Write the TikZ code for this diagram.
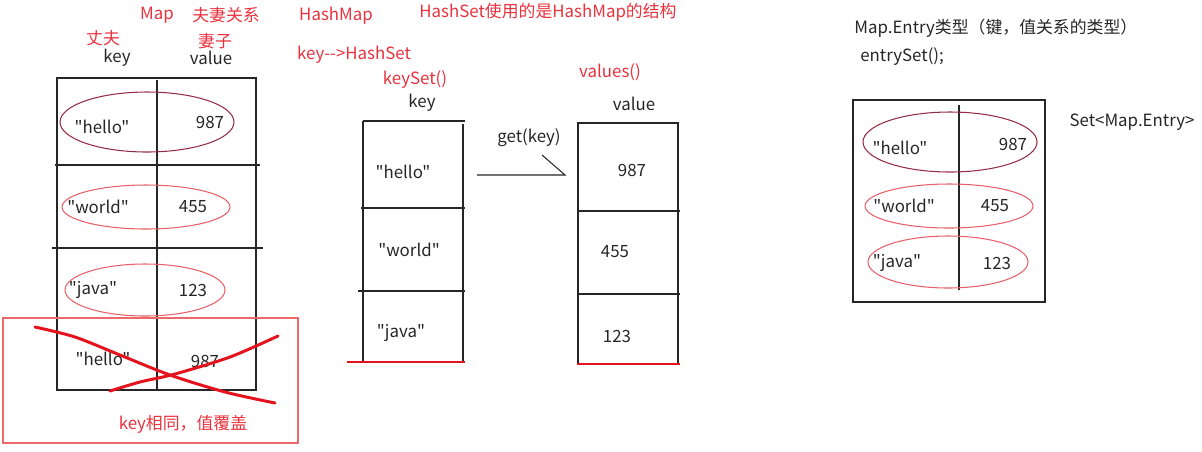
\documentclass[tikz,border=0pt]{standalone}
\usepackage{fontspec}
\newfontfamily\cjkfont{Noto Sans CJK SC}
\definecolor{notered}{RGB}{232,50,62}
\definecolor{ovaldark}{RGB}{150,45,70}
\definecolor{ovallight}{RGB}{232,95,105}
\definecolor{crossred}{RGB}{228,20,30}
\definecolor{boxred}{RGB}{236,105,105}
\usetikzlibrary{positioning,calc}

\tikzset{
  txt/.style={font=\cjkfont\fontsize{9.6}{11}\selectfont,inner sep=0pt,text=black!85},
  note/.style={txt,text=notered},
  grid/.style={draw=black!85,line width=0.7pt},
  darkoval/.style={draw=ovaldark,line width=0.6pt},
  lightoval/.style={draw=ovallight,line width=0.6pt},
}

\begin{document}
\begin{tikzpicture}[x=0.02cm,y=-0.02cm]
    \useasboundingbox (0,0) rectangle (1202,451);

    % titles and notes
    \node[note] (map) at (157,15) {Map};
    \node[note] (couple) at (226,15) {夫妻关系};
    \node[note] (husband) at (103,38) {丈夫};
    \node[note] (wife) at (215,41) {妻子};
    \node[txt] (keyhd) at (117,58) {key};
    \node[txt] (valhd) at (211,58) {value};
    \node[note] (hashmap) at (336,16) {HashMap};
    \node[note] (keyhash) at (354,55) {key-->HashSet};
    \node[note] (hashset) at (548,12) {HashSet使用的是HashMap的结构};
    \node[note] (keyset) at (415,80) {keySet()};
    \node[txt] (keyhd2) at (422,103) {key};
    \node[note] (values) at (610,72) {values()};
    \node[txt] (valhd2) at (634,104) {value};

    % map table
    \draw[grid] (57,78) rectangle (256,390);
    \draw[grid] (157,80) -- (157,390);
    \draw[grid] (55,165) -- (260,165);
    \draw[grid] (52,248) -- (263,248);
    \draw[grid] (57,318) -- (260,318);
    \draw[darkoval] (147,122) ellipse (87 and 30);
    \draw[lightoval] (146,207) ellipse (84 and 22);
    \draw[lightoval] (145,290) ellipse (80 and 26);
    \node[txt] (mk1) at (102,127) {"hello"};
    \node[txt] (mv1) at (210,122) {987};
    \node[txt] (mk2) at (98,207) {"world"};
    \node[txt] (mv2) at (193,207) {455};
    \node[txt] (mk3) at (93,290) {"java"};
    \node[txt] (mv3) at (193,290) {123};
    \node[txt] (mk4) at (103,359) {"hello"};
    \node[txt] (mv4) at (205,361) {987};

    % overwritten entry
    \draw[boxred,line width=0.8pt] (3,318) rectangle (298,443);
    \draw[crossred,line width=1.7pt,line cap=round]
      plot[smooth] coordinates {(35,327) (75,337) (120,355) (170,375) (225,392) (275,403)};
    \draw[crossred,line width=1.7pt,line cap=round]
      plot[smooth] coordinates {(110,391) (140,382) (175,374) (230,357) (278,336)};
    \node[note] (same) at (183,424) {key相同，值覆盖};

    % keySet table
    \draw[grid] (363,121) -- (465,121);
    \draw[grid] (363,121) -- (363,362);
    \draw[grid] (463,124) -- (463,362);
    \draw[grid] (361,208) -- (465,208);
    \draw[grid] (358,291) -- (465,291);
    \draw[crossred,line width=0.8pt] (347,362) -- (465,362);
    \node[txt] (sk1) at (403,172) {"hello"};
    \node[txt] (sk2) at (409,250) {"world"};
    \node[txt] (sk3) at (401,333) {"java"};

    % values table
    \draw[grid] (578,123) rectangle (678,364);
    \draw[grid] (578,211) -- (680,211);
    \draw[grid] (578,294) -- (680,294);
    \draw[crossred,line width=0.8pt] (577,364) -- (680,364);
    \node[txt] (sv1) at (632,170) {987};
    \node[txt] (sv2) at (615,252) {455};
    \node[txt] (sv3) at (617,336) {123};

    % get(key)
    \node[txt] (get) at (529,138) {get(key)};
    \coordinate (gs) at (477,175);
    \coordinate (ge) at (565,175);
    \coordinate (gh) at (542,155);
    \draw[black!85,line width=0.6pt] (gs) -- (ge) -- (gh);

    % entrySet
    \node[txt,anchor=west] (entry) at (854,28) {Map.Entry类型（键，值关系的类型）};
    \node[txt,anchor=west] (eset) at (860,57) {entrySet();};
    \draw[grid] (853,100) rectangle (1045,302);
    \draw[grid] (959,105) -- (959,290);
    \draw[darkoval] (950,142) ellipse (87 and 30);
    \draw[lightoval] (949,206) ellipse (84 and 22);
    \draw[lightoval] (948,262) ellipse (80 and 26);
    \node[txt] (ek1) at (900,148) {"hello"};
    \node[txt] (ev1) at (1013,144) {987};
    \node[txt] (ek2) at (904,206) {"world"};
    \node[txt] (ev2) at (995,206) {455};
    \node[txt] (ek3) at (897,263) {"java"};
    \node[txt] (ev3) at (997,263) {123};
    \node[txt] (setentry) at (1132,122) {Set<Map.Entry>};
\end{tikzpicture}
\end{document}
